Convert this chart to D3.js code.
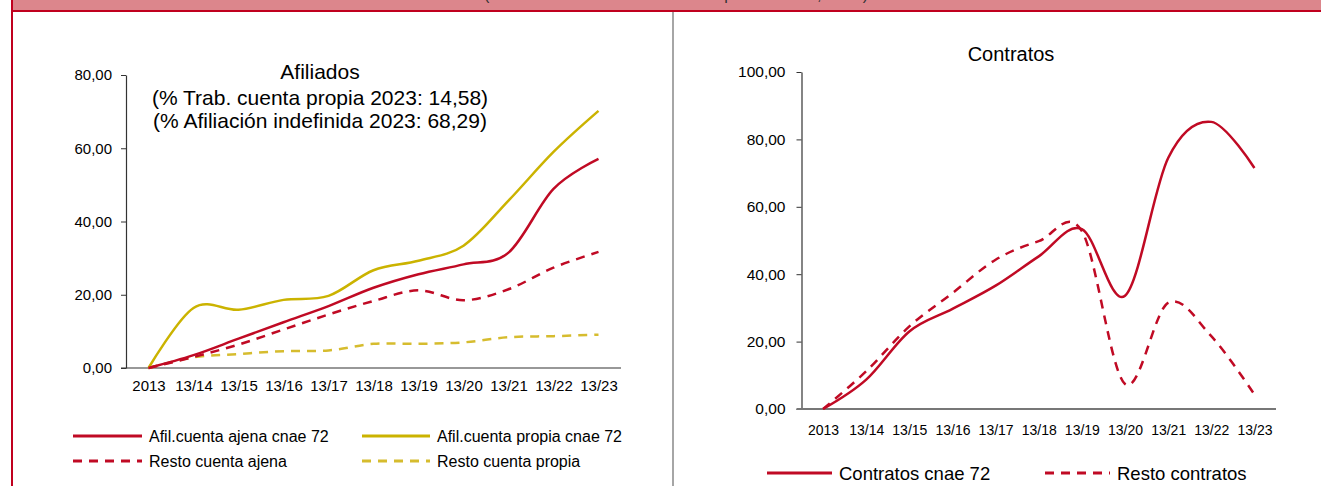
<!DOCTYPE html>
<html>
<head>
<meta charset="utf-8">
<script src="https://cdn.jsdelivr.net/npm/d3@7"></script>
<style>
  html, body { margin: 0; padding: 0; background: #fff; }
  svg { display: block; font-family: "Liberation Sans", Arial, sans-serif; }
</style>
</head>
<body>
<svg id="chart" width="1321" height="486"></svg>
<script>
// ---- data ----
const categories = ["2013","13/14","13/15","13/16","13/17","13/18","13/19","13/20","13/21","13/22","13/23"];
const afilAjena72   = [0, 3.5, 8.0, 12.5, 16.9, 21.9, 25.6, 28.3, 31.5, 48.9, 57.1];
const afilPropia72  = [0, 16.4, 15.9, 18.6, 19.7, 26.7, 29.3, 33.4, 45.7, 59.0, 70.2];
const restoAjena    = [0, 3.0, 6.4, 10.5, 14.6, 18.3, 21.2, 18.5, 21.5, 27.4, 31.7];
const restoPropia   = [0, 2.9, 3.8, 4.6, 4.8, 6.6, 6.6, 7.0, 8.4, 8.7, 9.1];
const contratos72   = [0, 8.7, 23.0, 29.7, 36.6, 45.3, 53.4, 33.6, 74.5, 85.2, 71.5];
const restoContratos= [0, 11.2, 24.5, 34.4, 44.3, 49.8, 52.8, 7.4, 31.5, 21.6, 4.3];
const leftTicks  = [0, 20, 40, 60, 80];
const rightTicks = [0, 20, 40, 60, 80, 100];
const headerText = "(Tasa de variación acumulada respecto a 2013, en %)";
const leftTitle = ["Afiliados", "(% Trab. cuenta propia 2023: 14,58)", "(% Afiliación indefinida 2023: 68,29)"];
const rightTitle = "Contratos";
const leftLegend = [
  {name: "Afil.cuenta ajena cnae 72", key: "ajena72"},
  {name: "Afil.cuenta propia cnae 72", key: "propia72"},
  {name: "Resto cuenta ajena", key: "restoAjena"},
  {name: "Resto cuenta propia", key: "restoPropia"}
];
const rightLegend = [
  {name: "Contratos cnae 72", key: "contratos72"},
  {name: "Resto contratos", key: "restoContratos"}
];

// ---- styles ----
const RED = "#C00A24", YEL = "#CBB300", YEL2 = "#D6BC2E";
const styles = {
  ajena72:   {color: RED,  dash: null},
  propia72:  {color: YEL,  dash: null},
  restoAjena:{color: RED,  dash: "9,7"},
  restoPropia:{color: YEL2, dash: "9,7"},
  contratos72:{color: RED, dash: null},
  restoContratos:{color: RED, dash: "9,7"}
};

const svg = d3.select("#chart");
const fmt = v => d3.format(".2f")(v).replace(".", ",");

function txt(g, x, y, s, size, anchor, sx) {
  return g.append("text")
    .attr("transform", `translate(${x},${y}) scale(${sx || 1},1)`)
    .attr("text-anchor", anchor || "start")
    .attr("font-size", size)
    .attr("fill", "#000")
    .text(s);
}

// ---- frame ----
svg.append("rect").attr("x", 12).attr("y", 0).attr("width", 1309).attr("height", 10).attr("fill", "#DC868C");
txt(svg, 676, -0.5, headerText, 17, "middle")
  .attr("textLength", 384).attr("lengthAdjust", "spacingAndGlyphs").attr("fill", "#333");
svg.append("rect").attr("x", 12).attr("y", 10).attr("width", 1309).attr("height", 2).attr("fill", "#C0001E");
svg.append("rect").attr("x", 11).attr("y", 0).attr("width", 2).attr("height", 486).attr("fill", "#C0001E");
svg.append("rect").attr("x", 672).attr("y", 12).attr("width", 2).attr("height", 474).attr("fill", "#A6A6A6");

function drawChart(cfg) {
  const g = svg.append("g");
  const x = d3.scalePoint().domain(categories).range(cfg.xRange).padding(0.5);
  const y = d3.scaleLinear().domain(cfg.yDomain).range(cfg.yRange);

  const yAxis = d3.axisLeft(y).tickValues(cfg.ticks).tickFormat(fmt).tickSize(5).tickSizeOuter(0).tickPadding(cfg.yPad);
  const ya = g.append("g").attr("transform", `translate(${cfg.xRange[0]},0)`).call(yAxis);
  ya.select(".domain").attr("stroke", "#333").attr("stroke-width", 1.2);
  ya.selectAll(".tick line").attr("stroke", "#333");
  ya.selectAll(".tick text").attr("font-size", cfg.yFont).attr("fill", "#000").attr("font-family", "Liberation Sans, Arial, sans-serif");

  const xAxis = d3.axisBottom(x).tickSize(0).tickSizeOuter(0).tickPadding(cfg.xPad);
  const xa = g.append("g").attr("transform", `translate(0,${cfg.yRange[0]})`).call(xAxis);
  xa.select(".domain").attr("stroke", cfg.xAxisColor).attr("stroke-width", cfg.xAxisWidth)
    .attr("d", `M${cfg.xRange[0]-5},0H${cfg.xRange[1]}`);
  xa.selectAll(".tick text").attr("font-size", cfg.xFont).attr("fill", "#000")
    .attr("font-family", "Liberation Sans, Arial, sans-serif");

  const line = d3.line()
    .x((d, i) => x(categories[i]))
    .y(d => y(d))
    .curve(d3.curveCatmullRom.alpha(0));

  cfg.series.forEach(s => {
    const st = styles[s.key];
    g.append("path").datum(s.values)
      .attr("fill", "none")
      .attr("stroke", st.color)
      .attr("stroke-width", 2.5)
      .attr("stroke-dasharray", st.dash)
      .attr("d", line);
  });
  return g;
}

// Left chart
drawChart({
  xRange: [126, 621], yRange: [368, 75], yDomain: [0, 80], ticks: leftTicks,
  yPad: 9, yFont: 15, xFont: 15, xPad: 12, xAxisColor: "#333", xAxisWidth: 1.2,
  series: [
    {key: "restoPropia", values: restoPropia},
    {key: "restoAjena", values: restoAjena},
    {key: "propia72", values: afilPropia72},
    {key: "ajena72", values: afilAjena72}
  ]
});
txt(svg, 320, 79, leftTitle[0], 21, "middle");
txt(svg, 320, 105, leftTitle[1], 21, "middle");
txt(svg, 320, 128, leftTitle[2], 21, "middle");

// Right chart
drawChart({
  xRange: [801.5, 1276], yRange: [409, 72], yDomain: [0, 100], ticks: rightTicks,
  yPad: 11, yFont: 15.5, xFont: 14, xPad: 16, xAxisColor: "#777", xAxisWidth: 2,
  series: [
    {key: "restoContratos", values: restoContratos},
    {key: "contratos72", values: contratos72}
  ]
});
txt(svg, 1011, 61, rightTitle, 20, "middle");

// Legends
function legendItem(x0, x1, y, key, name, size) {
  const st = styles[key];
  svg.append("line").attr("x1", x0).attr("x2", x1).attr("y1", y).attr("y2", y)
    .attr("stroke", st.color).attr("stroke-width", 3).attr("stroke-dasharray", st.dash);
  txt(svg, x1 + 7, y + size * 0.36, name, size, "start");
}
legendItem(73, 142, 436, leftLegend[0].key, leftLegend[0].name, 16);
legendItem(362, 430, 436, leftLegend[1].key, leftLegend[1].name, 16);
legendItem(73, 142, 461, leftLegend[2].key, leftLegend[2].name, 16);
legendItem(362, 430, 461, leftLegend[3].key, leftLegend[3].name, 16);
legendItem(767, 832, 473, rightLegend[0].key, rightLegend[0].name, 18.5);
legendItem(1045, 1110, 473, rightLegend[1].key, rightLegend[1].name, 18.5);
</script>
</body>
</html>
